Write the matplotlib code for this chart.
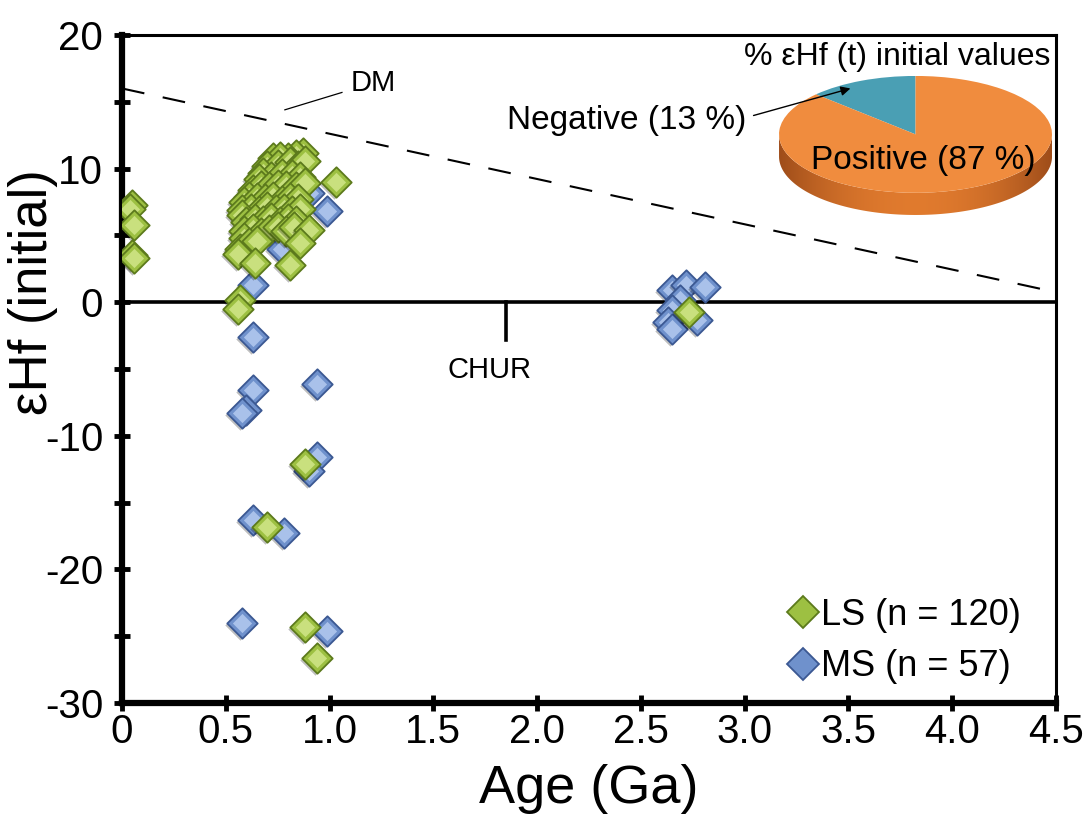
import numpy as np
import matplotlib
matplotlib.use('Agg')
import matplotlib.pyplot as plt
from matplotlib.lines import Line2D
from matplotlib.patches import Wedge, Polygon
from matplotlib.transforms import offset_copy

plt.rcParams['font.family'] = ['Liberation Sans', 'DejaVu Sans']
plt.rcParams['axes.unicode_minus'] = False

# --- data -------------------------------------------------------------
# LS zircons (age in Ga, initial eHf)
ls_age = [0.05, 0.04, 0.06, 0.05, 0.06,
          0.87, 0.84, 0.80, 0.73, 0.76,
          0.70, 0.75, 0.81, 0.85, 0.88,
          0.68, 0.72, 0.77, 0.82, 0.86, 0.66,
          0.63, 0.67, 0.71, 0.75, 0.79, 0.84, 0.88,
          0.61, 0.59, 0.65, 0.69, 0.73, 0.77, 0.81, 0.85,
          0.58, 0.62, 0.66, 0.70, 0.74, 0.78, 0.82, 0.86,
          0.58, 0.60, 0.64, 0.68, 0.72, 0.76, 0.80, 0.84,
          0.59, 0.63, 0.67, 0.71, 0.75, 0.79, 0.83, 0.90,
          0.59, 0.57, 0.61, 0.65, 0.86, 0.56,
          0.64, 0.81, 1.03, 0.57, 0.56,
          2.73, 0.88, 0.70, 0.88, 0.94]
ls_ehf = [7.3, 7.0, 5.8, 3.5, 3.3,
          11.2, 11.0, 10.8, 10.8, 10.9,
          10.2, 10.3, 10.5, 10.2, 10.6,
          9.7, 9.4, 9.6, 9.5, 9.4, 9.2,
          8.4, 8.7, 8.6, 8.8, 8.7, 8.6, 8.9,
          7.9, 7.5, 7.8, 7.7, 7.9, 7.6, 7.8, 7.7,
          6.9, 7.0, 6.8, 7.1, 6.9, 7.0, 6.8, 7.0,
          6.5, 6.0, 6.2, 6.1, 6.3, 6.0, 6.2, 6.1,
          5.3, 5.5, 5.2, 5.4, 5.6, 5.3, 5.6, 5.4,
          4.8, 4.0, 4.4, 4.6, 4.4, 3.6,
          2.9, 2.8, 9.0, 0.15, -0.5,
          -0.75, -12.1, -16.8, -24.3, -26.6]

# MS zircons
ms_age = [0.90, 0.77, 0.99, 0.63, 0.62, 0.70, 0.80, 0.85, 0.60,
          0.63, 0.63, 0.94, 0.60, 0.58, 0.94, 0.90, 0.63, 0.78,
          0.58, 0.99,
          2.65, 2.72, 2.81, 2.69, 2.65, 2.63, 2.65, 2.77]
ms_ehf = [8.2, 4.0, 6.8, 1.3, 5.5, 6.5, 7.5, 9.0, 4.3,
          -2.6, -6.6, -6.1, -8.1, -8.3, -11.6, -12.6, -16.3, -17.3,
          -24.0, -24.6,
          0.9, 1.3, 1.1, 0.15, -0.6, -1.5, -2.0, -1.35]

# depleted mantle reference line
dm_age = [0.0, 4.5]
dm_ehf = [16.0, 0.75]

# share of positive / negative initial eHf
pie_labels = ['Negative (13 %)', 'Positive (87 %)']
pie_pct = [13, 87]

x_ticks = [0, 0.5, 1.0, 1.5, 2.0, 2.5, 3.0, 3.5, 4.0, 4.5]
x_ticklabels = ['0', '0.5', '1.0', '1.5', '2.0', '2.5', '3.0', '3.5', '4.0', '4.5']
y_ticks = [-30, -20, -10, 0, 10, 20]

# --- styles ------------------------------------------------------------
ls_col = {'face': '#9dc042', 'edge': '#5c7a1c', 'light': '#c9e07e'}
ms_col = {'face': '#6f91cc', 'edge': '#3b5892', 'light': '#a9c1ea'}
MS2 = 240   # scatter size of the diamonds

fig = plt.figure(figsize=(10.85, 8.14), dpi=100, facecolor='white')
ax = fig.add_axes([0.1124, 0.1364, 0.8608, 0.8206])


def diamonds(ax, xs, ys, col, z0):
    # one bevelled diamond per point, each stacked over the previous one
    shadow = offset_copy(ax.transData, fig=fig, x=-2, y=-2, units='dots')
    for i, (x, y) in enumerate(zip(xs, ys)):
        z = z0 + i * 0.01
        ax.scatter([x], [y], s=MS2, marker='D', c='#000000', alpha=0.25,
                   linewidths=0, transform=shadow, zorder=z)
        ax.scatter([x], [y], s=MS2, marker='D', c=col['face'],
                   edgecolors=col['edge'], linewidths=1.3, zorder=z + 0.002)
        ax.scatter([x], [y], s=MS2 * 0.4, marker='D', c=col['light'],
                   linewidths=0, zorder=z + 0.004)


ax.axhline(0, color='black', lw=2.6, zorder=3)
ax.plot([1.85, 1.85], [0, -2.85], color='black', lw=2.6, zorder=3)
ax.plot(dm_age, dm_ehf, color='black', lw=1.5, ls=(0, (11, 9)), zorder=2)

diamonds(ax, ms_age, ms_ehf, ms_col, 4)
diamonds(ax, ls_age, ls_ehf, ls_col, 6)

# reference labels
ax.plot([0.785, 1.06], [14.4, 15.7], color='black', lw=0.9)
ax.text(1.10, 16.4, 'DM', fontsize=21, ha='left', va='center')
ax.text(1.77, -5.1, 'CHUR', fontsize=21, ha='center', va='center')

# axes
ax.set_xlim(0, 4.5)
ax.set_ylim(-30, 20)
ax.set_xticks(x_ticks)
ax.set_xticklabels(x_ticklabels)
ax.set_yticks(y_ticks)
ax.set_yticks([-25, -15, -5, 5, 15], minor=True)
ax.tick_params(which='both', direction='inout', length=11, width=3.5,
               labelsize=29, top=False, right=False)
ax.tick_params(axis='y', pad=8)
ax.tick_params(axis='x', pad=2)
for s in ['left', 'bottom']:
    ax.spines[s].set_linewidth(4.5)
for s in ['top', 'right']:
    ax.spines[s].set_linewidth(2.2)

ax.set_xlabel('Age (Ga)', fontsize=39)
ax.xaxis.set_label_coords(0.5, -0.092)
ax.set_ylabel('εHf (initial)', fontsize=38)
ax.yaxis.set_label_coords(-0.069, 0.615)

handles = [Line2D([], [], ls='none', marker='D', markersize=16,
                  markerfacecolor=c['face'], markeredgecolor=c['edge'],
                  markeredgewidth=1.3)
           for c in (ls_col, ms_col)]
ax.legend(handles, ['LS (n = 120)', 'MS (n = 57)'], loc='lower right',
          bbox_to_anchor=(0.99, -0.01), frameon=False, fontsize=26,
          handletextpad=0.0, handlelength=1.0, labelspacing=0.45,
          borderpad=0.2)

# --- 3-D looking pie inset -------------------------------------------
pax = fig.add_axes([0.718, 0.7359, 0.2516, 0.1708])
pax.axis('off')
depth = 0.38

t = np.linspace(np.pi, 2 * np.pi, 120)
side = np.vstack([
    np.column_stack([np.cos(t), np.sin(t) - depth]),
    np.column_stack([np.cos(t[::-1]), np.sin(t[::-1])]),
])
side_patch = Polygon(side, closed=True, fc='none', ec='none')
pax.add_patch(side_patch)
grad = np.abs(np.linspace(-1, 1, 256)) ** 2
c0 = np.array([0.88, 0.48, 0.18])
c1 = np.array([0.62, 0.30, 0.10])
img = c0[None, :] * (1 - grad[:, None]) + c1[None, :] * grad[:, None]
im = pax.imshow(img[None, :, :], extent=(-1, 1, -1 - depth, 0.05),
                aspect='auto', zorder=1)
im.set_clip_path(side_patch)

pie_colors = ['#4a9fb4', '#f08c3e']
start = 90
for pct, col in zip(pie_pct, pie_colors):
    end = start + pct * 3.6
    pax.add_patch(Wedge((0, 0), 1, start, end, fc=col, ec='none', zorder=2))
    start = end
pax.set_xlim(-1, 1)
pax.set_ylim(-1 - depth, 1)

pax.text(0.06, -0.45, pie_labels[1], fontsize=24, ha='center', va='center',
         zorder=3)
fig.text(0.968, 0.930, '% εHf (t) initial values', fontsize=23,
         ha='right', va='center')
pax.annotate(pie_labels[0], xy=(3.51, 16.0), xycoords=ax.transData,
             xytext=(1.857, 13.6), textcoords=ax.transData,
             fontsize=24, ha='left', va='center', annotation_clip=False,
             arrowprops=dict(arrowstyle='-|>', color='black', lw=1.0,
                             mutation_scale=14, relpos=(1.0, 0.6),
                             shrinkA=3, shrinkB=0))

fig.savefig('out.png', dpi=100)
